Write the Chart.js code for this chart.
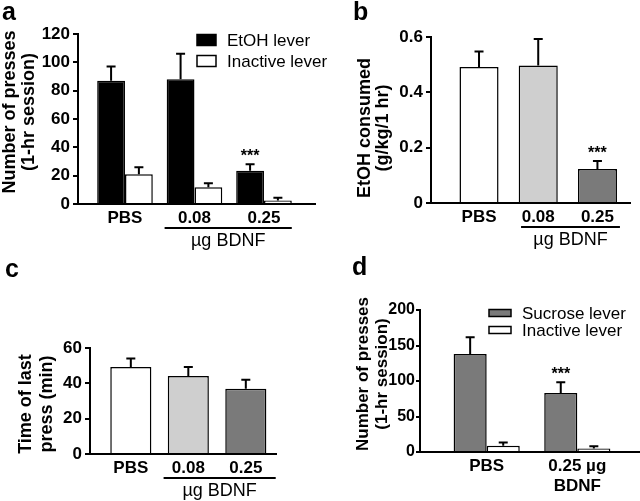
<!DOCTYPE html>
<html>
<head>
<meta charset="utf-8">
<script src="https://cdn.jsdelivr.net/npm/chart.js@4.4.1/dist/chart.umd.min.js"></script>
<style>
  body { margin: 0; background: #fff; }
  #fig { position: relative; width: 640px; height: 501px; overflow: hidden; }
  .panel { position: absolute; }
</style>
</head>
<body>
<div id="fig">
  <div class="panel" style="left:320px;top:0;width:320px;height:250px"><canvas id="chartB"></canvas></div>
  <div class="panel" style="left:320px;top:250px;width:320px;height:251px"><canvas id="chartD"></canvas></div>
  <div class="panel" style="left:0;top:250px;width:320px;height:251px"><canvas id="chartC"></canvas></div>
  <div class="panel" style="left:0;top:0;width:345px;height:250px"><canvas id="chartA"></canvas></div>
</div>
<script>
// a: lever presses, EtOH self-administration
const doseLabels = ["PBS", "0.08", "0.25"];
const etohPresses = [87, 88, 23.5];
const etohPressesSem = [10, 18, 4.5];
const inactiveA = [21, 11.8, 2.5];
const inactiveASem = [5, 2.8, 2];
const etohSig = ["", "", "***"];
const yTicksA = [0, 20, 40, 60, 80, 100, 120];

// b: EtOH consumed
const consumed = [0.492, 0.497, 0.123];
const consumedSem = [0.056, 0.096, 0.029];
const consumedSig = ["", "", "***"];
const yTicksB = [0, 0.2, 0.4, 0.6];

// c: time of last press
const lastPress = [49.3, 44.2, 37];
const lastPressSem = [4.7, 5.1, 5];
const yTicksC = [0, 20, 40, 60];

// d: sucrose presses
const sucroseLabels = ["PBS", ["0.25 µg", "BDNF"]];
const sucrosePresses = [138, 83];
const sucroseSem = [23.6, 15.3];
const inactiveD = [8.9, 5];
const inactiveDSem = [4.6, 3];
const sucroseSig = ["", "***"];
const yTicksD = [0, 50, 100, 150, 200];

const doseColors = ["#ffffff", "#cfcfcf", "#7a7a7a"];

const FONT = "'Liberation Sans', Arial, Helvetica, sans-serif";
Chart.defaults.font.family = FONT;
Chart.defaults.color = "#000";
Chart.defaults.animation = false;

const pts = vals => vals.map((v, i) => ({ x: i + 1, y: v }));

// error bars, stars, BDNF bracket, legend, titles
const extras = {
  id: "extras",
  afterDatasetsDraw(chart, args, o) {
    const ctx = chart.ctx, xs = chart.scales.x, ys = chart.scales.y, area = chart.chartArea;
    ctx.save();
    ctx.strokeStyle = "#000";
    ctx.fillStyle = "#000";
    ctx.lineWidth = 2;
    chart.data.datasets.forEach((ds, di) => {
      chart.getDatasetMeta(di).data.forEach((bar, i) => {
        const top = ys.getPixelForValue(ds.data[i].y + ds.sem[i]);
        ctx.beginPath();
        ctx.moveTo(bar.x, bar.y);
        ctx.lineTo(bar.x, top);
        ctx.moveTo(bar.x - 4.5, top);
        ctx.lineTo(bar.x + 4.5, top);
        ctx.stroke();
        if (ds.sig && ds.sig[i]) {
          ctx.font = "bold 16px " + FONT;
          ctx.textAlign = "center";
          ctx.textBaseline = "alphabetic";
          ctx.fillText(ds.sig[i], bar.x, top - 3);
        }
      });
    });

    if (o.bracket) {
      const x1 = xs.getPixelForValue(o.bracket.from), x2 = xs.getPixelForValue(o.bracket.to);
      const y = area.bottom + 24;
      ctx.beginPath();
      ctx.moveTo(x1, y);
      ctx.lineTo(x2, y);
      ctx.stroke();
      ctx.font = "18px " + FONT;
      ctx.textAlign = "center";
      ctx.textBaseline = "middle";
      ctx.fillText("µg BDNF", (x1 + x2) / 2, y + 13);
    }

    if (o.legend) {
      const L = o.legend;
      ctx.font = "17px " + FONT;
      ctx.textAlign = "left";
      ctx.textBaseline = "middle";
      ctx.lineWidth = 1.5;
      chart.data.datasets.forEach((ds, di) => {
        const cy = L.y + di * L.gap;
        ctx.fillStyle = ds.backgroundColor;
        ctx.fillRect(L.x, cy - L.h / 2, L.w, L.h);
        ctx.strokeRect(L.x, cy - L.h / 2, L.w, L.h);
        ctx.fillStyle = "#000";
        ctx.fillText(ds.label, L.textX, cy + 1);
      });
    }

    if (o.yTitle) {
      const T = o.yTitle;
      ctx.font = "bold " + T.size + "px " + FONT;
      ctx.textAlign = "center";
      ctx.textBaseline = "middle";
      T.lines.forEach((line, k) => {
        ctx.save();
        ctx.translate(T.x[k], T.cy);
        ctx.rotate(-Math.PI / 2);
        ctx.fillText(line, 0, 0);
        ctx.restore();
      });
    }

    if (o.letter) {
      ctx.font = "bold 25px " + FONT;
      ctx.textAlign = "left";
      ctx.textBaseline = "alphabetic";
      ctx.fillText(o.letter.text, o.letter.x, o.letter.y);
    }
    ctx.restore();
  }
};

function makeChart(id, c) {
  return new Chart(document.getElementById(id), {
    type: "bar",
    data: { datasets: c.datasets },
    plugins: [extras],
    options: {
      responsive: true,
      maintainAspectRatio: false,
      layout: { padding: { left: 0, top: c.top, right: c.right, bottom: 0 } },
      datasets: { bar: { categoryPercentage: c.catPct, barPercentage: c.barPct, borderColor: "#000", borderWidth: 1.5 } },
      plugins: { legend: { display: false }, tooltip: { enabled: false }, extras: c.extras },
      scales: {
        x: {
          type: "linear",
          offset: false,
          bounds: "data",
          min: c.xMin,
          max: c.xMax,
          grid: { display: false, drawTicks: false, offset: false },
          border: { color: "#000", width: 2 },
          afterBuildTicks: s => { s.ticks = c.labels.map((l, i) => ({ value: i + 1 })); },
          afterFit: s => { s.height = c.bottom; },
          ticks: {
            autoSkip: false, maxRotation: 0, padding: 4,
            font: { size: 17, weight: "bold", lineHeight: 1.2 },
            callback: v => c.labels[v - 1]
          }
        },
        y: {
          min: c.yTicks[0],
          max: c.yTicks[c.yTicks.length - 1],
          afterBuildTicks: s => { s.ticks = c.yTicks.map(v => ({ value: v })); },
          afterFit: s => { s.width = c.left; },
          grid: { drawOnChartArea: false, drawTicks: true, tickLength: c.tickLen || 5, color: "#000", lineWidth: 2 },
          border: { color: "#000", width: 2 },
          ticks: {
            padding: c.tickPad || 3,
            font: { size: c.tickSize || 17, weight: "bold" },
            callback: c.yFmt || (v => String(v))
          }
        }
      }
    }
  });
}

makeChart("chartA", {
  labels: doseLabels,
  datasets: [
    { label: "EtOH lever", data: pts(etohPresses), sem: etohPressesSem, sig: etohSig, backgroundColor: "#000000" },
    { label: "Inactive lever", data: pts(inactiveA), sem: inactiveASem, backgroundColor: "#ffffff" }
  ],
  xMin: 0.324, xMax: 3.734, yTicks: yTicksA,
  left: 78, right: 30, top: 34, bottom: 46,
  catPct: 0.8, barPct: 1.0,
  extras: {
    bracket: { from: 1.57, to: 3.4 },
    legend: { x: 197, y: 40, gap: 21, w: 19, h: 11, textX: 227 },
    yTitle: { lines: ["Number of presses", "(1-hr session)"], x: [10, 29], cy: 112, size: 18 },
    letter: { text: "a", x: 2, y: 20 }
  }
});

makeChart("chartB", {
  labels: doseLabels,
  datasets: [
    { label: "EtOH consumed", data: pts(consumed), sem: consumedSem, sig: consumedSig, backgroundColor: doseColors }
  ],
  xMin: 0.189, xMax: 3.55, yTicks: yTicksB,
  yFmt: v => (v === 0 ? "0" : v.toFixed(1)),
  left: 111, right: 10, top: 37, bottom: 47,
  catPct: 1.0, barPct: 0.66,
  extras: {
    bracket: { from: 1.71, to: 3.38 },
    yTitle: { lines: ["EtOH consumed", "(g/kg/1 hr)"], x: [45, 63], cy: 128, size: 18 },
    letter: { text: "b", x: 33, y: 20 }
  }
});

makeChart("chartC", {
  labels: doseLabels,
  datasets: [
    { label: "Time of last press", data: pts(lastPress), sem: lastPressSem, backgroundColor: doseColors }
  ],
  xMin: 0.29, xMax: 3.525, yTicks: yTicksC,
  left: 90, right: 44, top: 98, bottom: 47,
  catPct: 1.0, barPct: 0.715,
  extras: {
    bracket: { from: 1.57, to: 3.52 },
    yTitle: { lines: ["Time of last", "press (min)"], x: [26, 47], cy: 154, size: 18 },
    letter: { text: "c", x: 5, y: 27 }
  }
});

makeChart("chartD", {
  labels: sucroseLabels,
  datasets: [
    { label: "Sucrose lever", data: pts(sucrosePresses), sem: sucroseSem, sig: sucroseSig, backgroundColor: "#7a7a7a" },
    { label: "Inactive lever", data: pts(inactiveD), sem: inactiveDSem, backgroundColor: "#ffffff" }
  ],
  xMin: 0.264, xMax: 2.692, yTicks: yTicksD,
  left: 100, right: 0, top: 60, bottom: 49,
  tickLen: 4, tickPad: 1, tickSize: 16,
  catPct: 0.73, barPct: 1.0,
  extras: {
    legend: { x: 169, y: 63, gap: 17, w: 22, h: 7, textX: 202 },
    yTitle: { lines: ["Number of presses", "(1-hr session)"], x: [43, 62], cy: 124, size: 17 },
    letter: { text: "d", x: 32, y: 25 }
  }
});
</script>
</body>
</html>
